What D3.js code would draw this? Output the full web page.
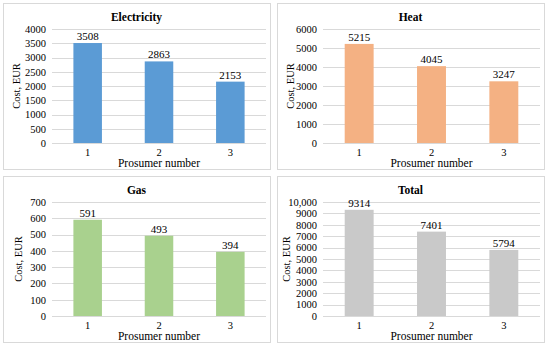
<!DOCTYPE html>
<html>
<head>
<meta charset="utf-8">
<script src="https://cdn.jsdelivr.net/npm/d3@7"></script>
<style>
  body { margin: 0; background: #fff; }
  svg text { font-family: "Liberation Serif", "Times New Roman", "DejaVu Serif", serif !important; fill: #000; }
</style>
</head>
<body>
<svg width="550" height="346"></svg>
<script>
var categories = ["1", "2", "3"];

var electricity = [3508, 2863, 2153];
var heat = [5215, 4045, 3247];
var gas = [591, 493, 394];
var total = [9314, 7401, 5794];

var electricityTicks = [0, 500, 1000, 1500, 2000, 2500, 3000, 3500, 4000];
var heatTicks = [0, 1000, 2000, 3000, 4000, 5000, 6000];
var gasTicks = [0, 100, 200, 300, 400, 500, 600, 700];
var totalTicks = [0, 1000, 2000, 3000, 4000, 5000, 6000, 7000, 8000, 9000, 10000];

var svg = d3.select("svg");

// one panel per chart, 2x2 grid
var panels = [
  {title: "Electricity", values: electricity, ticks: electricityTicks, color: "#5b9bd5", x: 3, y: 3, left: 49, ytitle: 13},
  {title: "Heat", values: heat, ticks: heatTicks, color: "#f4b183", x: 277, y: 3, left: 46, ytitle: 13},
  {title: "Gas", values: gas, ticks: gasTicks, color: "#a9d18e", x: 3, y: 176, left: 49, ytitle: 15},
  {title: "Total", values: total, ticks: totalTicks, color: "#c9c9c9", x: 277, y: 176, left: 46, ytitle: 9}
];

var boxW = 267, boxH = 166;

panels.forEach(function(p) {
  var g = svg.append("g")
      .attr("transform", "translate(" + p.x + "," + p.y + ")");

  g.append("rect")
      .attr("x", 0.5).attr("y", 0.5)
      .attr("width", boxW).attr("height", boxH)
      .attr("fill", "#fff")
      .attr("stroke", "#d9d9d9");

  var top = 26, bottom = 140, right = 263;

  var x = d3.scaleBand()
      .domain(categories)
      .range([p.left, right])
      .paddingInner(0.6)
      .paddingOuter(0.3);

  var y = d3.scaleLinear()
      .domain([0, p.ticks[p.ticks.length - 1]])
      .range([bottom, top]);

  // gridlines
  g.selectAll(".grid")
      .data(p.ticks)
      .enter().append("line")
      .attr("x1", p.left).attr("x2", right)
      .attr("y1", function(d) { return Math.round(y(d)) + 0.5; })
      .attr("y2", function(d) { return Math.round(y(d)) + 0.5; })
      .attr("stroke", "#d9d9d9");

  var fmt = function(d) { return d >= 10000 ? d3.format(",")(d) : d; };

  var yAxis = g.append("g")
      .attr("transform", "translate(" + (p.left - 5) + ",0)")
      .call(d3.axisLeft(y).tickValues(p.ticks).tickFormat(fmt).tickSize(0).tickPadding(1));
  yAxis.attr("font-family", null).attr("font-size", null);
  yAxis.select(".domain").remove();
  yAxis.selectAll("text").style("font-size", "10.5px");

  var xAxis = g.append("g")
      .attr("transform", "translate(0," + bottom + ")")
      .call(d3.axisBottom(x).tickSize(0).tickPadding(6));
  xAxis.attr("font-family", null).attr("font-size", null);
  xAxis.select(".domain").remove();
  xAxis.selectAll("text").style("font-size", "10.5px");

  g.selectAll(".bar")
      .data(p.values)
      .enter().append("rect")
      .attr("x", function(d, i) { return x(categories[i]); })
      .attr("y", function(d) { return y(d); })
      .attr("width", x.bandwidth())
      .attr("height", function(d) { return bottom - y(d); })
      .attr("fill", p.color);

  g.selectAll(".lbl")
      .data(p.values)
      .enter().append("text")
      .attr("x", function(d, i) { return x(categories[i]) + x.bandwidth() / 2; })
      .attr("y", function(d) { return y(d) - 3; })
      .attr("text-anchor", "middle")
      .style("font-size", "11px")
      .text(function(d) { return d; });

  g.append("text")
      .attr("x", boxW / 2)
      .attr("y", 18)
      .attr("text-anchor", "middle")
      .style("font-size", "11.5px")
      .style("font-weight", "bold")
      .text(p.title);

  g.append("text")
      .attr("x", (p.left + right) / 2)
      .attr("y", 164)
      .attr("text-anchor", "middle")
      .style("font-size", "11.5px")
      .text("Prosumer number");

  g.append("text")
      .attr("transform", "translate(" + p.ytitle + "," + ((top + bottom) / 2) + ") rotate(-90)")
      .attr("text-anchor", "middle")
      .attr("dy", "0.35em")
      .style("font-size", "10.5px")
      .text("Cost, EUR");
});
</script>
</body>
</html>
